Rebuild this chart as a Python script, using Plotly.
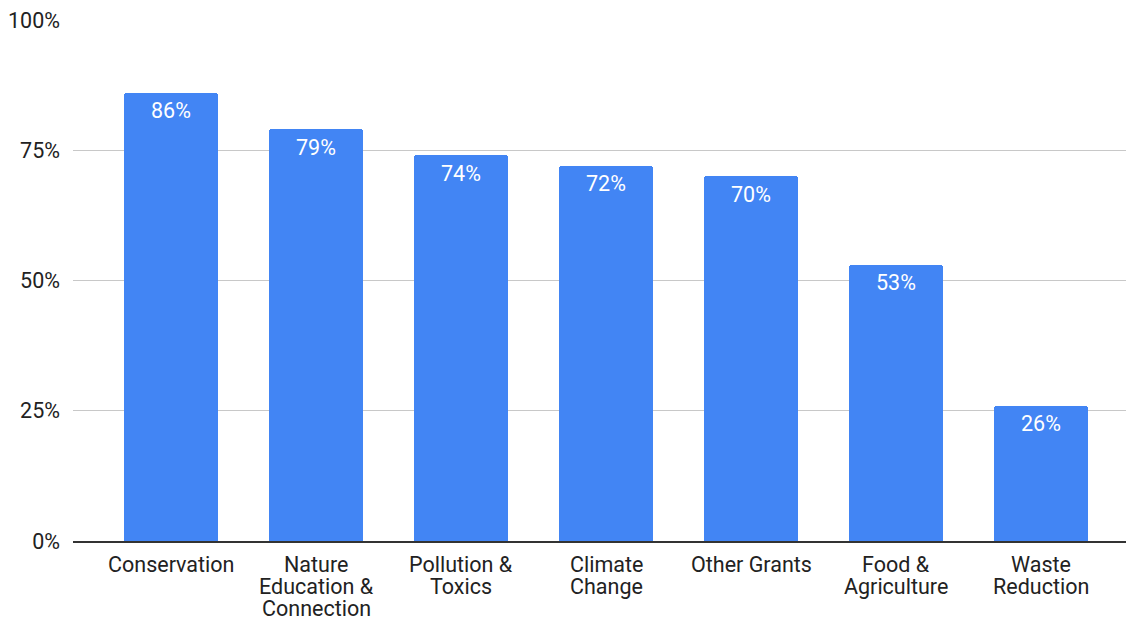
import plotly.graph_objects as go

categories = [
    "Conservation",
    "Nature<br>Education &<br>Connection",
    "Pollution &<br>Toxics",
    "Climate<br>Change",
    "Other Grants",
    "Food &<br>Agriculture",
    "Waste<br>Reduction",
]
values = [86, 79, 74, 72, 70, 53, 26]
y_ticks = [0, 25, 50, 75, 100]

FONT = "Roboto, Arial, sans-serif"
FONT_SIZE = 21.5
TEXT_COLOR = "#222222"
BAR_COLOR = "#4285F4"
LINE_STEP = 22  # spacing between lines of a category label

fig = go.Figure()
fig.add_trace(go.Bar(
    x=list(range(len(categories))),
    y=values,
    width=0.65,
    marker=dict(color=BAR_COLOR, line=dict(width=0), cornerradius=3),
    hoverinfo="skip",
))

# value labels just inside the top of each bar
for i, v in enumerate(values):
    fig.add_annotation(
        x=i, y=v, text=f"{v}%", showarrow=False,
        yanchor="middle", yshift=-18,
        font=dict(family=FONT, size=FONT_SIZE, color="white"),
    )

# category labels, one annotation per line for tight line spacing
for i, label in enumerate(categories):
    for k, line in enumerate(label.split("<br>")):
        fig.add_annotation(
            x=i, y=0, text=line, showarrow=False,
            yanchor="middle", yshift=-(23 + k * LINE_STEP),
            font=dict(family=FONT, size=FONT_SIZE, color=TEXT_COLOR),
        )

fig.update_layout(
    width=1126, height=618,
    margin=dict(l=73, r=0, t=20, b=77),
    paper_bgcolor="white", plot_bgcolor="white",
    showlegend=False,
    font=dict(family=FONT, size=FONT_SIZE, color=TEXT_COLOR),
    bargap=0,
)
fig.update_xaxes(
    range=[-0.676, 6.586],
    tickmode="array",
    tickvals=list(range(len(categories))),
    showticklabels=False,
    showgrid=False, zeroline=False,
    showline=True, linecolor="#333333", linewidth=1.5,
    ticks="", automargin=False,
)
fig.update_yaxes(
    range=[0, 100],
    tickmode="array",
    tickvals=y_ticks,
    ticktext=[f"{t}%" for t in y_ticks],
    showgrid=True, gridcolor="#c8c8c8", gridwidth=1,
    zeroline=False, showline=False,
    ticks="", ticklabelstandoff=12, automargin=False,
    tickfont=dict(family=FONT, size=FONT_SIZE, color=TEXT_COLOR),
)

fig.write_html("out.html")
